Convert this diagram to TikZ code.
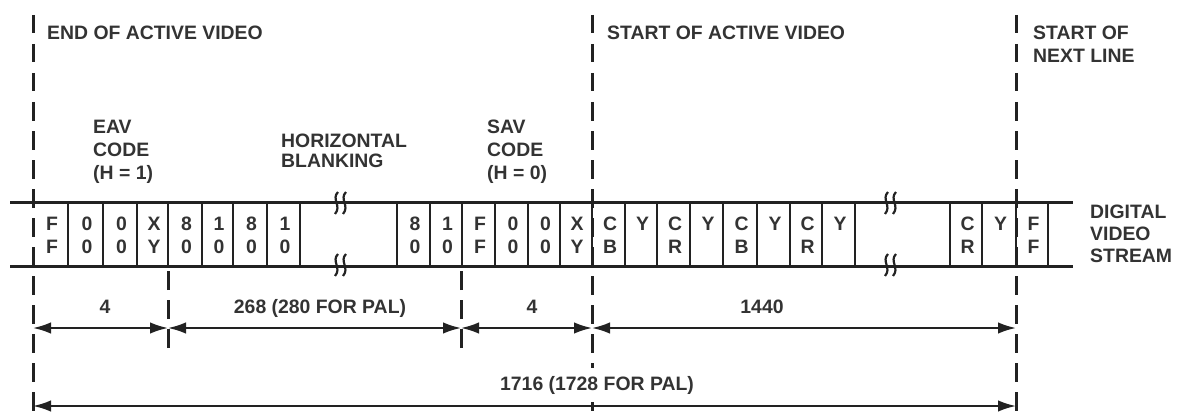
\documentclass[tikz,border=0pt]{standalone}
\usepackage{fontspec}
\setmainfont{Liberation Sans}
\usetikzlibrary{arrows.meta}
\definecolor{txt}{HTML}{333333}
\definecolor{ink}{HTML}{222222}
\tikzset{
  lbl/.style={inner sep=0pt, text=txt, font=\fontsize{19.4}{23}\selectfont\bfseries, anchor=base west},
  dimlbl/.style={inner sep=0pt, text=txt, font=\fontsize{19.4}{23}\selectfont\bfseries, anchor=base},
  cellt/.style={inner sep=0pt, text=txt, font=\fontsize{19.4}{23}\selectfont\bfseries, anchor=base},
  guide/.style={draw=ink, line width=3pt, dash pattern=on 18.5pt off 10.5pt},
  tickline/.style={draw=ink, line width=3pt, dash pattern=on 19pt off 10pt},
  rail/.style={draw=ink, line width=3pt},
  wall/.style={draw=ink, line width=2.6pt},
  dimline/.style={draw=ink, line width=2pt, {Latex[length=18pt,width=11.5pt]}-{Latex[length=18pt,width=11.5pt]}},
  brk/.style={draw=ink, line width=2.2pt},
  brkmark/.pic={
    \draw[brk] (-3,-11) .. controls (-10,-4) and (1,3) .. (-6,11);
    \draw[brk] (5,-11) .. controls (-2,-4) and (9,3) .. (2,11);
  }
}
\begin{document}
\begin{tikzpicture}[x=1pt,y=-1pt]
\useasboundingbox (0,0) rectangle (1179,412);

% guide lines
\coordinate (g1t) at (33,15);   \coordinate (g1b) at (33,412);
\coordinate (g2t) at (592,15);  \coordinate (g2b) at (592,412);
\coordinate (g3t) at (1016,15); \coordinate (g3b) at (1016,412);
\draw[guide] (g1t) -- (g1b);
\draw[guide] (g2t) -- (g2b);
\draw[guide] (g3t) -- (g3b);
\coordinate (t1a) at (168,348); \coordinate (t1b) at (168,266);
\coordinate (t2a) at (461,348); \coordinate (t2b) at (461,266);
\draw[tickline] (t1a) -- (t1b);
\draw[tickline] (t2a) -- (t2b);

% stream rails
\coordinate (rtl) at (10,202);  \coordinate (rtr) at (1073,202);
\coordinate (rbl) at (10,266);  \coordinate (rbr) at (1073,266);
\draw[rail] (rtl) -- (rtr);
\draw[rail] (rbl) -- (rbr);

% cell walls
\foreach \x in {68,103,137,168,202,233,267,300,397,430,462,495,528,560,592,625,657,690,723,757,790,822,855,950,982,1016,1048}
  \draw[wall] (\x,202) -- (\x,266);

% break marks
\pic at (341,203) {brkmark};
\pic at (341,265) {brkmark};
\pic at (891,203) {brkmark};
\pic at (891,265) {brkmark};

% cell texts
\foreach \cx/\ta/\tb [count=\i] in {52/F/F,87/0/0,121.5/0/0,154/X/Y,186.5/8/0,219/1/0,251.5/8/0,285/1/0,
  415/8/0,447.5/1/0,480/F/F,513/0/0,545.5/0/0,577/X/Y,610/C/B,642.5/Y/{},675/C/R,708/Y/{},741.5/C/B,775/Y/{},807.5/C/R,840/Y/{},
  967.5/C/R,1000.5/Y/{},1033.5/F/F}{
  \node[cellt] (ca\i) at (\cx,230) {\ta};
  \node[cellt] (cb\i) at (\cx,253) {\tb};
}

% headings
\node[lbl] (eoav) at (47,40) {END OF ACTIVE VIDEO};
\node[lbl] (soav) at (607,40) {START OF ACTIVE VIDEO};
\node[lbl] (sonl1) at (1033,40) {START OF};
\node[lbl] (sonl2) at (1033,63) {NEXT LINE};
\node[lbl] (eav1) at (93,133) {EAV};
\node[lbl] (eav2) at (93,156) {CODE};
\node[lbl] (eav3) at (93,179) {(H = 1)};
\node[lbl] (hb1) at (281,147) {HORIZONTAL};
\node[lbl] (hb2) at (281,167) {BLANKING};
\node[lbl] (sav1) at (487,133) {SAV};
\node[lbl] (sav2) at (487,156) {CODE};
\node[lbl] (sav3) at (487,179) {(H = 0)};
\node[lbl] (dvs1) at (1090,218) {DIGITAL};
\node[lbl] (dvs2) at (1090,240) {VIDEO};
\node[lbl] (dvs3) at (1090,262) {STREAM};

% dimension lines
\coordinate (d0) at (33,328);  \coordinate (d1) at (168,328);
\coordinate (d2) at (461,328); \coordinate (d3) at (592,328);
\coordinate (d4) at (1016,328);
\coordinate (e0) at (33,406);  \coordinate (e1) at (1016,406);
\draw[dimline] (d0) -- (d1);
\draw[dimline] (d1) -- (d2);
\draw[dimline] (d2) -- (d3);
\draw[dimline] (d3) -- (d4);
\draw[dimline] (e0) -- (e1);
\node[dimlbl] (n4a) at (105,313) {4};
\node[dimlbl] (n268) at (320,313) {268 (280 FOR PAL)};
\node[dimlbl] (n4b) at (532,313) {4};
\node[dimlbl] (n1440) at (762,313) {1440};
\node[dimlbl, fill=white, inner xsep=3pt, inner ysep=8pt] (n1716) at (597,390) {1716 (1728 FOR PAL)};
\end{tikzpicture}
\end{document}
